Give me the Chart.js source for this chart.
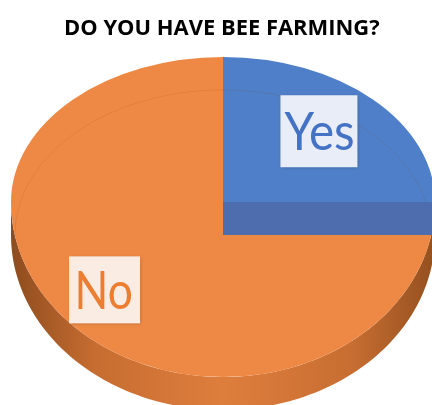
<!DOCTYPE html>
<html><head><meta charset="utf-8">
<script src="https://cdn.jsdelivr.net/npm/chart.js@4.4.1/dist/chart.umd.min.js"></script>
<style>html,body{margin:0;padding:0;background:#fff;overflow:hidden}canvas{display:block}</style>
</head><body>
<canvas id="c" width="432" height="405"></canvas>
<script>
// ---- data ----
const categories = ['Yes', 'No'];
const values = [25, 75];
const chartTitle = 'DO YOU HAVE BEE FARMING?';

// ---- styles ----
const topColors = ['#4F7FC8', '#EE8945'];
const sideStops = [
  ['#34508A', '#4468AA', '#4C6EB0', '#4468AA', '#34508A'],
  ['#8E4C1E', '#C76D31', '#DE7E3D', '#C86E32', '#94501F']
];
const cutColor = '#4E6DAE';
const labelColors = ['#4472C4', '#ED7D31'];
const boxColors = ['rgba(238,242,250,0.97)', 'rgba(252,240,233,0.97)'];
const labelFx = [0.64, 0.79];
const labelFy = [0.69, 0.71];
const labelInkW = [69, 53];
const labelBoxW = [77, 71];
const labelBoxH = [72, 67];
const G = {TX: 223, TY: 202, rx: 212, ryB: 145, ryF: 175, depth: 33};

function fitText(ctx, text, cx, baseline, capH, inkW, weight, color, family) {
  const size = capH / 0.72;
  ctx.save();
  ctx.font = weight + ' ' + size + 'px ' + family;
  const m = ctx.measureText(text);
  const w = m.actualBoundingBoxLeft + m.actualBoundingBoxRight;
  const s = inkW / w;
  ctx.translate(cx, baseline);
  ctx.scale(s, 1);
  ctx.fillStyle = color;
  ctx.textAlign = 'left';
  ctx.textBaseline = 'alphabetic';
  ctx.fillText(text, -w / 2 + m.actualBoundingBoxLeft, 0);
  ctx.restore();
}

const pie3d = {
  id: 'pie3d',
  beforeDatasetsDraw(chart) {
    const ctx = chart.ctx;
    const arcs = chart.getDatasetMeta(0).data;
    const a0 = arcs[0];
    const cx0 = a0.x, cy0 = a0.y, r0 = a0.outerRadius;
    const {TX, TY, rx, ryB, ryF, depth} = G;
    const pt = (t, dy = 0) => {
      const s = Math.sin(t);
      return [TX + rx * Math.cos(t), TY + (s < 0 ? ryB : ryF) * s + dy];
    };
    // side walls (front half)
    arcs.forEach((arc, i) => {
      const s = arc.startAngle, e = arc.endAngle;
      for (const off of [0, 2 * Math.PI, -2 * Math.PI]) {
        const a = Math.max(s, off), b = Math.min(e, Math.PI + off);
        if (b <= a) continue;
        const g = ctx.createLinearGradient(TX - rx, 0, TX + rx, 0);
        const st = sideStops[i];
        [0, 0.2, 0.5, 0.8, 1].forEach((p, k) => g.addColorStop(p, st[k]));
        ctx.beginPath();
        const n = 120;
        for (let k = 0; k <= n; k++) {
          const p = pt(a + (b - a) * k / n);
          k ? ctx.lineTo(p[0], p[1]) : ctx.moveTo(p[0], p[1]);
        }
        for (let k = n; k >= 0; k--) {
          const p = pt(a + (b - a) * k / n, depth);
          ctx.lineTo(p[0], p[1]);
        }
        ctx.closePath();
        ctx.fillStyle = g;
        ctx.fill();
      }
    });
    // top faces, two halves with different vertical scale (perspective)
    const pass = (ry, y0, y1) => {
      ctx.save();
      ctx.beginPath();
      ctx.rect(0, y0, chart.width, y1 - y0);
      ctx.clip();
      ctx.translate(TX, TY);
      ctx.scale(rx / r0, ry / r0);
      ctx.translate(-cx0, -cy0);
      arcs.forEach(a => a.draw(ctx));
      ctx.restore();
    };
    pass(ryF, TY, chart.height + 50);
    pass(ryB, -50, TY + 1);
    // faint bevel ring
    ctx.save();
    ctx.beginPath();
    for (let k = 0; k <= 240; k++) {
      const t = Math.PI + Math.PI * k / 240;
      const p = [TX + (rx - 4) * Math.cos(t), TY + depth + ryB * Math.sin(t)];
      k ? ctx.lineTo(p[0], p[1]) : ctx.moveTo(p[0], p[1]);
    }
    ctx.strokeStyle = 'rgba(120,60,20,0.12)';
    ctx.lineWidth = 1;
    ctx.stroke();
    ctx.restore();
    // cut face of the first slice (exploded look)
    const e0 = a0.endAngle;
    const pe = pt(e0);
    ctx.beginPath();
    ctx.moveTo(TX, TY);
    ctx.lineTo(pe[0], pe[1]);
    ctx.lineTo(pe[0], pe[1] + depth);
    ctx.lineTo(TX, TY + depth);
    ctx.closePath();
    ctx.fillStyle = cutColor;
    ctx.fill();
    return false;
  },
  afterDraw(chart) {
    const ctx = chart.ctx;
    const arcs = chart.getDatasetMeta(0).data;
    const {TX, TY, rx, ryB, ryF} = G;
    arcs.forEach((arc, i) => {
      const mid = (arc.startAngle + arc.endAngle) / 2;
      const s = Math.sin(mid);
      const x = TX + rx * Math.cos(mid) * labelFx[i];
      const y = TY + (s < 0 ? ryB : ryF) * s * labelFy[i];
      const bw = labelBoxW[i], bh = labelBoxH[i];
      ctx.save();
      ctx.shadowColor = 'rgba(0,0,0,0.25)';
      ctx.shadowBlur = 3;
      ctx.shadowOffsetX = 1;
      ctx.shadowOffsetY = 1;
      ctx.fillStyle = boxColors[i];
      ctx.fillRect(x - bw / 2, y - bh / 2, bw, bh);
      ctx.restore();
      fitText(ctx, chart.data.labels[i], x, y + 19, 37, labelInkW[i], 'normal', labelColors[i], 'Lato');
    });
    fitText(ctx, chartTitle, 223, 35, 16, 314, 'bold', '#000', '"Open Sans"');
  }
};

new Chart(document.getElementById('c'), {
  type: 'pie',
  data: {
    labels: categories,
    datasets: [{data: values, backgroundColor: topColors, borderWidth: 0}]
  },
  options: {
    responsive: false,
    animation: false,
    events: [],
    layout: {padding: 0},
    plugins: {legend: {display: false}, title: {display: false}, tooltip: {enabled: false}}
  },
  plugins: [pie3d]
});
</script>
</body></html>
